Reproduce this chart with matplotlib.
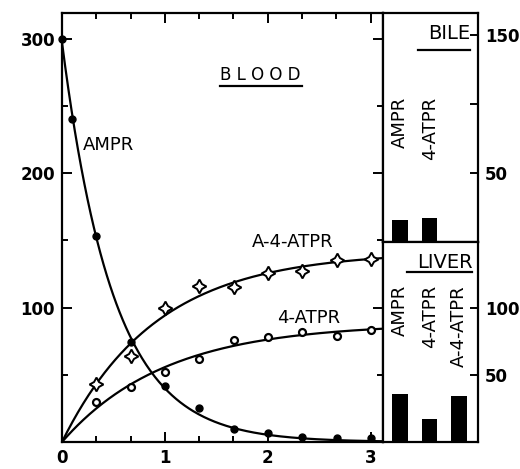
"""Blood, bile and liver levels of AMPR and its metabolites."""

import matplotlib.pyplot as plt
import matplotlib.ticker as mticker
import numpy as np

# Blood, time in hours
T_AMPR = [0.0, 0.1, 0.33, 0.67, 1.0, 1.33, 1.67, 2.0, 2.33, 2.67, 3.0]
AMPR = [300, 240, 153, 74, 42, 25, 10, 7, 4, 3, 3]

T_METAB = [0.33, 0.67, 1.0, 1.33, 1.67, 2.0, 2.33, 2.67, 3.0]
A4ATPR = [43, 64, 100, 116, 115, 126, 127, 135, 136]
ATPR4 = [30, 41, 52, 62, 76, 78, 82, 79, 83]

# Bile and liver bars
BILE_LABELS = ["AMPR", "4-ATPR"]
BILE = [16, 17.5]
LIVER_LABELS = ["AMPR", "4-ATPR", "A-4-ATPR"]
LIVER = [36, 17, 34]

FONT = "DejaVu Sans"
LW = 1.6


def fit_decay(t, y):
    t, y = np.asarray(t), np.asarray(y, float)
    best = None
    for k in np.linspace(0.2, 5, 500):
        f = np.exp(-k * t)
        a = (f @ y) / (f @ f)
        err = np.sum((a * f - y) ** 2)
        if best is None or err < best[0]:
            best = (err, a, k)
    return best[1], best[2]


def fit_rise(t, y):
    t, y = np.asarray(t), np.asarray(y, float)
    best = None
    for k in np.linspace(0.2, 5, 500):
        f = 1 - np.exp(-k * t)
        a = (f @ y) / (f @ f)
        err = np.sum((a * f - y) ** 2)
        if best is None or err < best[0]:
            best = (err, a, k)
    return best[1], best[2]


def underline(ax, x0, x1, y):
    ax.plot([x0, x1], [y, y], color="black", lw=1.6,
            transform=ax.transAxes, clip_on=False)


def main():
    plt.rcParams["font.family"] = FONT
    fig = plt.figure(figsize=(5.2, 4.69), dpi=100)

    W, H = 520, 469
    x_l, x_m, x_r = 62 / W, 383 / W, 478 / W
    y_b, y_m, y_t = (H - 442) / H, (H - 242) / H, (H - 13) / H

    ax = fig.add_axes([x_l, y_b, x_m - x_l, y_t - y_b])
    axb = fig.add_axes([x_m, y_m, x_r - x_m, y_t - y_m])
    axl = fig.add_axes([x_m, y_b, x_r - x_m, y_m - y_b])

    # Blood curves
    tt = np.linspace(0, 3.1, 300)
    a, k = fit_decay(T_AMPR, AMPR)
    ax.plot(tt, a * np.exp(-k * tt), color="black", lw=LW)
    for ys in (A4ATPR, ATPR4):
        a, k = fit_rise([0] + T_METAB, [0] + ys)
        ax.plot(tt, a * (1 - np.exp(-k * tt)), color="black", lw=LW)

    ax.plot(T_AMPR, AMPR, "o", color="black", ms=5, clip_on=False)
    ax.plot(T_METAB, ATPR4, "o", mfc="white", mec="black", mew=1.6, ms=5)
    ax.plot(T_METAB, A4ATPR, marker=(4, 1, 0), ls="none", mfc="white",
            mec="black", mew=1.4, ms=10)

    ax.set_xlim(0, 3.12)
    ax.set_ylim(0, 319)
    ax.set_xticks([0, 1, 2, 3])
    ax.set_yticks([100, 200, 300])
    ax.xaxis.set_minor_locator(mticker.MultipleLocator(1 / 3))
    ax.yaxis.set_minor_locator(mticker.MultipleLocator(50))
    ax.tick_params(which="both", direction="in", top=True, right=True,
                   width=1.4, labelsize=12)
    ax.tick_params(which="major", length=7)
    ax.tick_params(which="minor", length=4)
    ax.tick_params(axis="x", pad=5)
    ax.tick_params(axis="y", pad=5)

    txt = dict(fontsize=13, color="black", va="center")
    ax.text(0.2, 221, "AMPR", ha="left", **txt)
    ax.text(1.85, 149, "A-4-ATPR", ha="left", **txt)
    ax.text(2.09, 92, "4-ATPR", ha="left", **txt)
    ax.text(1.93, 273, "B L O O D", ha="center", fontsize=12, va="center")
    underline(ax, 0.492, 0.748, 0.83)

    # Bile panel
    bx = np.arange(len(BILE))
    axb.bar(bx, BILE, width=0.52, color="black")
    axb.set_xlim(-0.58, 2.64)
    axb.set_ylim(0, 166)
    axb.set_xticks([])
    axb.set_yticks([50, 100, 150])
    axb.yaxis.tick_right()
    axb.set_yticklabels(["50", "", "150"])
    axb.tick_params(direction="in", length=6, width=1.4, labelsize=12, pad=5)
    for i, lab in enumerate(BILE_LABELS):
        axb.text(bx[i], 0.633, lab, rotation=90, ha="center", va="top",
                 fontsize=13, transform=axb.get_xaxis_transform())
    axb.text(0.92, 0.91, "BILE", ha="right", va="center", fontsize=14,
             transform=axb.transAxes)
    underline(axb, 0.37, 0.92, 0.84)

    # Liver panel
    lx = np.arange(len(LIVER))
    axl.bar(lx, LIVER, width=0.52, color="black")
    axl.set_xlim(-0.58, 2.64)
    axl.set_ylim(0, 149)
    axl.set_xticks([])
    axl.set_yticks([50, 100])
    axl.yaxis.tick_right()
    axl.tick_params(direction="in", length=6, width=1.4, labelsize=12, pad=5)
    for i, lab in enumerate(LIVER_LABELS):
        axl.text(lx[i], 0.785, lab, rotation=90, ha="center", va="top",
                 fontsize=13, transform=axl.get_xaxis_transform())
    axl.text(0.94, 0.9, "LIVER", ha="right", va="center", fontsize=14,
             transform=axl.transAxes)
    underline(axl, 0.25, 0.94, 0.85)

    for a_ in (ax, axb, axl):
        for s in a_.spines.values():
            s.set_linewidth(1.6)
        for lab in a_.get_xticklabels() + a_.get_yticklabels():
            lab.set_fontweight("bold")

    fig.savefig("out.png", dpi=100)


if __name__ == "__main__":
    main()
